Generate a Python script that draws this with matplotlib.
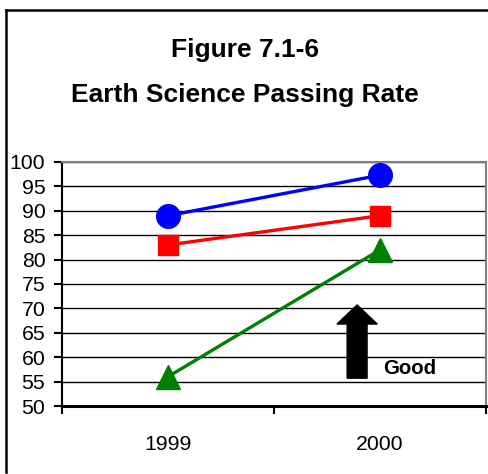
import matplotlib
matplotlib.use("Agg")
import matplotlib.pyplot as plt
from matplotlib.lines import Line2D
from matplotlib.patches import Polygon

years = ["1999", "2000"]
series_blue = [89, 97.3]
series_red = [83, 89]
series_green = [56, 82]
yticks = list(range(50, 101, 5))

plt.rcParams['font.family'] = ['Liberation Sans', 'DejaVu Sans']

W, H = 488, 474
fig = plt.figure(figsize=(W/100, H/100), dpi=100)
ax = fig.add_axes([62/W, (H-406)/H, (486-62)/W, (406-162)/H])

xs = [0.5, 1.5]
ax.plot(xs, series_blue, color='#0000ff', lw=2.4, marker='o', ms=17, zorder=5, clip_on=False)
ax.plot(xs, series_red, color='#ff0000', lw=2.4, marker='s', ms=14, zorder=5, clip_on=False)
ax.plot(xs, series_green, color='#008000', lw=2.4, marker='^', ms=17, zorder=5, clip_on=False)

ax.set_xlim(0, 2)
ax.set_ylim(50, 100)
ax.set_yticks(yticks)
ax.set_yticklabels([str(v) for v in yticks], fontsize=15.3)
ax.set_xticks([0, 1, 2])
ax.set_xticklabels([])
ax.set_xticks(xs, minor=True)
ax.set_xticklabels(years, minor=True, fontsize=15.3)
ax.tick_params(axis='x', which='minor', length=0, pad=21)
ax.tick_params(axis='x', which='major', length=6, width=1.5, direction='out')
ax.tick_params(axis='y', length=6, width=1.5, direction='out', pad=6)
ax.grid(axis='y', color='black', lw=1.0)
ax.set_axisbelow(True)
for s in ['top', 'right']:
    ax.spines[s].set_color('#808080')
    ax.spines[s].set_linewidth(1.5)
ax.spines['left'].set_linewidth(1.5)
ax.spines['bottom'].set_linewidth(2.2)

# "Good" arrow annotation
cx, tip, base, hl = 1.392, 70.7, 55.7, 3.9
hw, sw = 0.095, 0.047
arrow = Polygon([(cx, tip), (cx+hw, tip-hl), (cx+sw, tip-hl), (cx+sw, base),
                 (cx-sw, base), (cx-sw, tip-hl), (cx-hw, tip-hl)],
                closed=True, color='black', zorder=6)
ax.add_patch(arrow)
ax.text(1.514, 57.6, "Good", fontsize=14.7, fontweight='bold', ha='left', va='center')

fig.text(0.502, (H-50)/H, "Figure 7.1-6", ha='center', va='center', fontsize=19, fontweight='bold')
fig.text(0.502, (H-95)/H, "Earth Science Passing Rate", ha='center', va='center', fontsize=19, fontweight='bold')

# outer border
fig.add_artist(Line2D([6/W, 6/W], [(H-472)/H, (H-10)/H], color='black', lw=1.8, transform=fig.transFigure))
fig.add_artist(Line2D([6/W, 1.0], [(H-10)/H, (H-10)/H], color='black', lw=1.8, transform=fig.transFigure))

fig.savefig("out.png", dpi=100)
